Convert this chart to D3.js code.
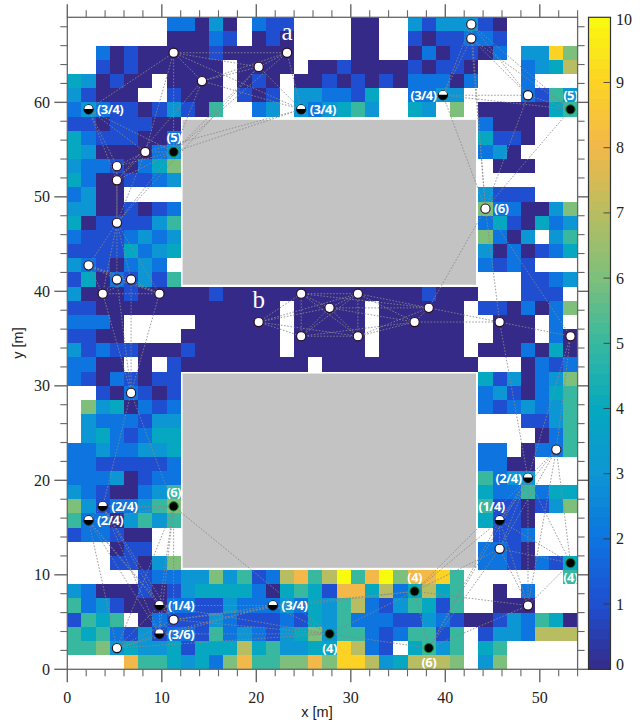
<!DOCTYPE html>
<html><head><meta charset="utf-8">
<script src="https://cdn.jsdelivr.net/npm/d3@7"></script>
<style>html,body{margin:0;padding:0;background:#fff}svg{display:block}</style>
</head><body><svg id="c" width="644" height="726"></svg>
<script>
// Occupancy grid: rows from the top (y = 69) down, 36 columns of 1.5 m. "." = no value, "a" = 10.
const cellSize = 1.5;
const gridRows = [
".......22030.211....00..3133310.....",
".......00021.010....00..1011221.....",
"..20100000100000....00..0201102.3396",
"..101000000.0000.001000010110...2347",
"430100.0000.010.0010101022202...2...",
"31000..1000.101.332214..2233....2153",
"23211013105..23.323453..43.6.0000045",
"11011100.....................2000...",
"42111002.....................4110...",
"43000023.....................230....",
"32210246......................000...",
"42001123............................",
"2300.........................3111...",
"33001012.....................6220036",
"40111135.....................2410423",
"21112323.....................6203.35",
"11114234.....................3020124",
"3210232......................2121...",
"14021315........................1123",
"30001000001000000000000001000...111.",
"110000000000000.00000.000000.1102026",
"2220.....000000.00000.000000..000.2.",
"1100....0000000.00000.000000..000.20",
"312110001000000.00000.000000.0002040",
"2200.0.1000000000.00000000000...0212",
"21021011.....................4130236",
"..102101.....................2310245",
".6340212.....................2123235",
".3222133........................1135",
".3421244.........................025",
"22322334.....................22.0225",
"22111112.....................2200...",
"22230122.....................5233...",
"32100235.....................4225244",
"63122356.....................5110136",
"52203535.....................4110...",
"122100........................112...",
"...011.......................2210...",
"...11036.....................2210214",
".....12233635127857a58a68895.......5",
"3200010134444204541884724745..0.2...",
"5231000221132223243572135415..000...",
"1545.0211132111214352221132100132540",
"5452131221523213463552125515.1332777",
"55634334144474533449721.4535.45.....",
"....855434268556686997347776.36....."
];

const obstaclesX = [[12.2, 43.25], [12.2, 43.25]];
const obstaclesY = [[40.7, 58.15], [10.74, 31.3]];

const xTicks = [0,10,20,30,40,50];
const yTicks = [0,10,20,30,40,50,60];
const barTicks = [0,1,2,3,4,5,6,7,8,9,10];
const paletteColors = ["#352a87","#1f4fd0","#0d74e0","#0d96d4","#05a8c0","#37b89f","#7dbf7b","#b7bd60","#f2b84a","#fcd225","#f9fb0e"];

// node: name, x, y, kind (w white, h half, b black), label, label side
const nodes = [
["A",11.25,65.25,"w"],["B",23.25,65.25,"w"],["C",20.25,63.75,"w"],["D",14.25,62.25,"w"],
["E",2.25,59.25,"h","(3/4)","r"],["F",24.75,59.25,"h","(3/4)","r"],
["G",8.25,54.75,"w"],["H",11.25,54.75,"b","(5)","a"],
["I",5.25,53.25,"w"],["J",5.25,51.75,"w"],["K",5.25,47.25,"w"],["L",2.25,42.75,"w"],
["M",5.25,41.25,"w"],["N",6.75,41.25,"w"],["O",3.75,39.75,"w"],["P",9.75,39.75,"w"],["Q",6.75,29.25,"w"],
["R",20.25,36.75,"w"],["S",24.75,39.75,"w"],["T",27.75,38.25,"w"],["U",24.75,35.25,"w"],
["V",30.75,39.75,"w"],["W",30.75,35.25,"w"],["X",38.25,38.25,"w"],["Y",36.75,36.75,"w"],
["Z",45.75,36.75,"w"],["AA",53.25,35.25,"w"],["AB",44.25,48.75,"w","(6)","r"],
["AC",42.75,68.25,"w"],["AD",42.75,66.75,"w"],["AE",39.75,60.75,"h","(3/4)","l"],["AF",48.75,60.75,"w"],["AG",53.25,59.25,"b","(5)","a"],
["AH",3.75,17.25,"h","(2/4)","r"],["AI",2.25,15.75,"h","(2/4)","r"],["AJ",11.25,17.25,"b","(6)","a"],
["AK",51.75,23.25,"w"],["AL",48.75,20.25,"h","(2/4)","l"],["AM",45.75,15.75,"h","(1/4)","al"],["AN",45.75,12.75,"w"],["AO",53.25,11.25,"b","(4)","u"],
["AP",9.75,6.75,"h","(1/4)","r"],["AQ",21.75,6.75,"h","(3/4)","r"],["AR",11.25,5.25,"w"],["AS",9.75,3.75,"h","(3/6)","r"],["AT",5.25,2.25,"w"],
["AU",27.75,3.75,"b","(4)","u"],["AV",36.75,8.25,"b","(4)","a"],["AW",48.75,6.75,"w"],["AX",38.25,2.25,"b","(6)","u"]
];
const linkGroups = [
["A","B","C","D","F","H"],["E","G","H","I","J"],["G","H","K"],["C","K"],["D","J"],["F","G"],["A","E"],["A","G"],
["K","L","M","N","O","P"],["I","K"],["J","K"],["Q","O","P","M","N"],
["R","S","T","U","V","W"],["S","X"],["U","Y"],["T","X","Y"],["V","X","Y"],["W","X","Y"],["X","Z"],["Y","Z"],["Z","AA"],["X","AB"],["Z","AB"],["AA","AB"],
["AC","AD","AE","AF","AG"],["AB","AC"],["AB","AD"],["AB","AE"],["AB","AF"],["AB","AG"],
["Q","AH"],["Q","AJ"],["AH","AI","AJ"],["AH","AP"],["AH","AR"],["AH","AS"],["AI","AP"],["AI","AR"],["AI","AS"],["AI","AT"],["AJ","AP"],["AJ","AR"],["AJ","AS"],["AJ","AT"],["AJ","AU"],
["AP","AQ","AR","AS","AT","AU"],["AU","AV"],["AU","AX"],["AV","AX"],["AV","AW"],["AX","AW"],["AQ","AV"],["AR","AV"],
["AK","AL","AM","AN","AO","AW"],["AV","AL"],["AV","AM"],["AV","AN"],["AX","AL"],["AX","AM"],["AX","AN"],["AA","AK"],["AA","AL"],["Z","AL"]
];
const wordA = {t:"a",x:23.25,y:66.6}, wordB = {t:"b",x:20.25,y:38.2};

const svg = d3.select("#c");
const x = d3.scaleLinear([0,54],[67.3,577.6]);
const y = d3.scaleLinear([0,69],[669.3,17.3]);
const color = d3.scaleLinear(barTicks,paletteColors).clamp(true);

const cells = [];
gridRows.forEach((row,j)=>{ for(let i=0;i<36;i++){ const ch=row[i]; if(ch&&ch!=="."){ cells.push({i,j,v:ch==="a"?10:+ch}); } } });
svg.append("g").attr("shape-rendering","crispEdges").selectAll("rect").data(cells).join("rect")
 .attr("x",d=>x(d.i*cellSize)).attr("width",d=>x((d.i+1)*cellSize)-x(d.i*cellSize))
 .attr("y",d=>y(69-d.j*cellSize)).attr("height",d=>y(69-(d.j+1)*cellSize)-y(69-d.j*cellSize))
 .attr("fill",d=>color(d.v));

obstaclesX.forEach((ox,k)=>{ const oy=obstaclesY[k];
 svg.append("rect").attr("x",x(ox[0])).attr("width",x(ox[1])-x(ox[0])).attr("y",y(oy[1])).attr("height",y(oy[0])-y(oy[1])).attr("fill","#c3c3c3");
});

// links
const byName = new Map(nodes.map(n=>[n[0],n]));
const seen = new Set(), pairs=[];
linkGroups.forEach(g=>{ for(let a=0;a<g.length;a++)for(let b=a+1;b<g.length;b++){ const k=[g[a],g[b]].sort().join("|"); if(!seen.has(k)){seen.add(k);pairs.push([byName.get(g[a]),byName.get(g[b])]);} } });
svg.append("g").selectAll("line").data(pairs).join("line")
 .attr("x1",d=>x(d[0][1])).attr("y1",d=>y(d[0][2])).attr("x2",d=>x(d[1][1])).attr("y2",d=>y(d[1][2]))
 .attr("stroke","#8a8a8a").attr("stroke-width",1).attr("stroke-dasharray","1.6 1.6").attr("opacity",.85);

// nodes
const gn = svg.append("g");
const r = 4.6;
nodes.forEach(n=>{
 const cx=x(n[1]), cy=y(n[2]);
 if(n[3]==="w"){ gn.append("circle").attr("cx",cx).attr("cy",cy).attr("r",r).attr("fill","#fff").attr("stroke","#2a0a18").attr("stroke-width",1.1); }
 else if(n[3]==="b"){ gn.append("circle").attr("cx",cx).attr("cy",cy).attr("r",r).attr("fill","#000").attr("stroke","#0b7d2a").attr("stroke-width",1); }
 else { gn.append("circle").attr("cx",cx).attr("cy",cy).attr("r",r).attr("fill","#000").attr("stroke","#111").attr("stroke-width",1);
   gn.append("path").attr("d",`M${cx-r+.5},${cy-0.4}A${r-.5},${r-.5} 0 0 1 ${cx+r-.5},${cy-0.4}Z`).attr("fill","#fff"); }
 if(n[4]){
  const s=n[5]; let tx=cx, ty=cy+4.7, anc="middle";
  if(s==="r"){tx=cx+8.5;anc="start";}
  if(s==="l"){tx=cx-6.5;anc="end";}
  if(s==="a"){ty=cy-9.5;}
  if(s==="u"){ty=cy+19;}
  if(s==="al"){tx=cx-8;ty=cy-9.8;}
  gn.append("text").attr("x",tx).attr("y",ty).attr("text-anchor",anc).attr("fill","#fff")
    .attr("font-family","'Open Sans'").attr("font-weight",700).attr("font-size",13).attr("letter-spacing",-0.6).text(n[4]);
 }
});
[wordA,wordB].forEach(w=>svg.append("text").attr("x",x(w.x)).attr("y",y(w.y)).attr("text-anchor","middle").attr("fill","#fff")
  .attr("font-family","'Liberation Serif'").attr("font-size",25).text(w.t));

// frame & ticks
const axisCol="#666";
const ag=svg.append("g").attr("stroke",axisCol).attr("fill","none");
ag.append("rect").attr("x",x(0)).attr("y",y(69)).attr("width",x(54)-x(0)).attr("height",y(0)-y(69)).attr("stroke-width",1.3);
const ticksX=d3.range(0,55,2), ticksY=d3.range(0,70,2);
ticksX.forEach(t=>{ const major=t%10===0, l=major?13:7;
 ag.append("line").attr("x1",x(t)).attr("x2",x(t)).attr("y1",y(0)).attr("y2",y(0)+l).attr("stroke-width",major?1.4:1.1);
 ag.append("line").attr("x1",x(t)).attr("x2",x(t)).attr("y1",y(69)).attr("y2",y(69)-l).attr("stroke-width",major?1.4:1.1);
});
ticksY.forEach(t=>{ const major=t%10===0, l=major?13:7;
 ag.append("line").attr("y1",y(t)).attr("y2",y(t)).attr("x1",x(0)).attr("x2",x(0)-l).attr("stroke-width",major?1.4:1.1);
 ag.append("line").attr("y1",y(t)).attr("y2",y(t)).attr("x1",x(54)).attr("x2",x(54)+l).attr("stroke-width",major?1.4:1.1);
});
const tf="'Liberation Serif'";
xTicks.forEach(t=>svg.append("text").attr("x",x(t)).attr("y",703).attr("text-anchor","middle").attr("font-family",tf).attr("font-size",16).attr("fill","#222").text(t));
yTicks.forEach(t=>svg.append("text").attr("x",50).attr("y",y(t)+5.5).attr("text-anchor","end").attr("font-family",tf).attr("font-size",16).attr("fill","#222").text(t));
svg.append("text").attr("x",317).attr("y",717).attr("text-anchor","middle").attr("font-family","'Liberation Sans'").attr("font-size",14.5).attr("fill","#222").text("x [m]");
svg.append("text").attr("transform","translate(23,343) rotate(-90)").attr("text-anchor","middle").attr("font-family","'Liberation Sans'").attr("font-size",14.5).attr("fill","#222").text("y [m]");

// colour bar
const barY=d3.scaleLinear([0,10],[669.3,17.3]);
const bands=d3.range(64);
svg.append("g").attr("shape-rendering","crispEdges").selectAll("rect").data(bands).join("rect")
 .attr("x",588.5).attr("width",22)
 .attr("y",d=>barY((d+1)*10/64)).attr("height",d=>barY(d*10/64)-barY((d+1)*10/64)+.5)
 .attr("fill",d=>color((d+.5)*10/64));
svg.append("rect").attr("x",588.5).attr("y",barY(10)).attr("width",22).attr("height",barY(0)-barY(10)).attr("fill","none").attr("stroke","#333").attr("stroke-width",1.2);
barTicks.forEach(t=>{
 if(t>0&&t<10) svg.append("line").attr("x1",603.5).attr("x2",610.5).attr("y1",barY(t)).attr("y2",barY(t)).attr("stroke","#333").attr("opacity",.8);
 svg.append("text").attr("x",616).attr("y",barY(t)+(t===10?8:t===0?1:5.5)).attr("font-family",tf).attr("font-size",16).attr("fill","#222").text(t);
});
</script>
</body></html>
